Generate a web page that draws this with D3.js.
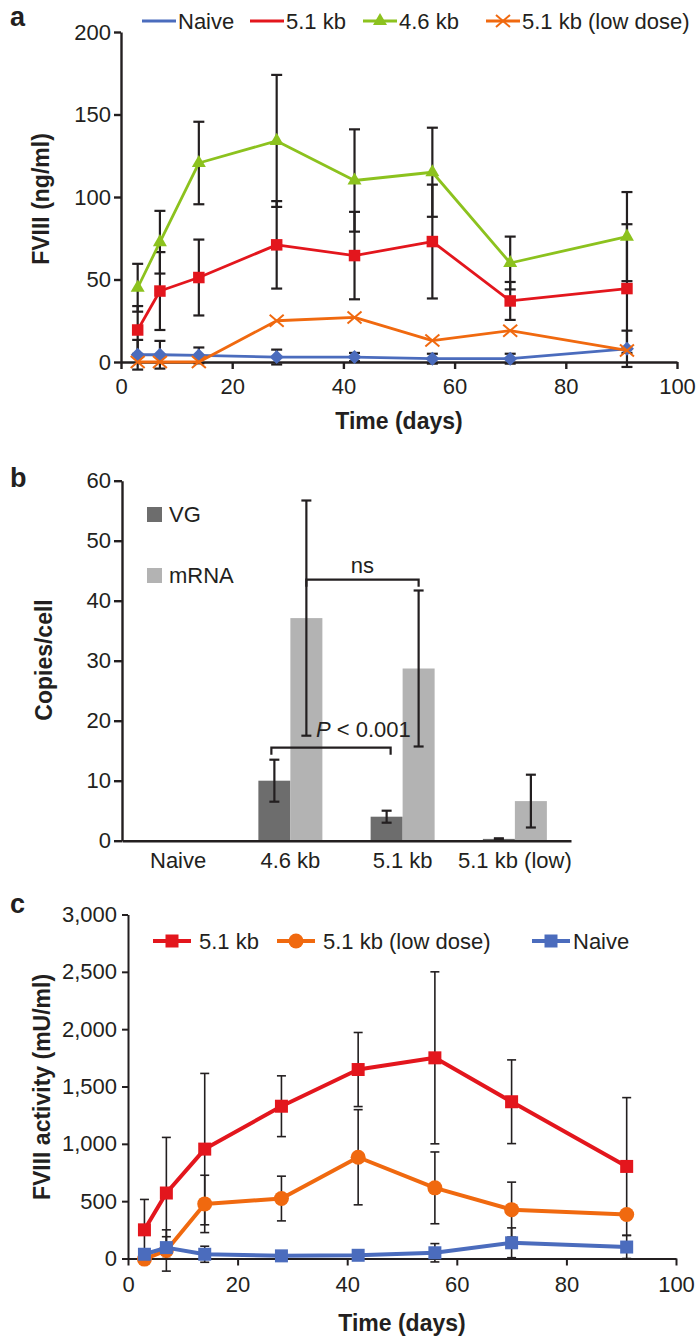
<!DOCTYPE html>
<html>
<head>
<meta charset="utf-8">
<script src="https://cdn.jsdelivr.net/npm/d3@7"></script>
<style>
  html, body { margin: 0; padding: 0; background: #fff; }
  svg { display: block; }
</style>
</head>
<body>
<div id="chart"></div>
<script>
// panel a: FVIII antigen (ng/ml)
const daysA = [3, 7, 14, 28, 42, 56, 70, 91];
const naiveA = [4.4, 4.4, 4, 3, 3, 2, 2, 8];
const naiveAErr = [9, 8.4, 4.8, 4.5, 2.5, 3, 3, 11];
const kb51A = [19.4, 43, 51.2, 71, 64.5, 73, 37, 44.5];
const kb51AErr = [14.5, 23.6, 23, 26.5, 26.5, 34.5, 11.5, 39];
const kb46A = [45, 72.6, 120.6, 134, 110, 115, 60, 76];
const kb46AErr = [14.5, 19, 25, 40, 31, 27, 16, 27];
const lowA = [0, 0, 0, 25, 27, 13, 19, 7];
const yTicksA = [0, 50, 100, 150, 200];
const xTicks = [0, 20, 40, 60, 80, 100];

// panel b: copies per cell
const groupsB = ["Naive", "4.6 kb", "5.1 kb", "5.1 kb (low)"];
const vgB = [0, 10, 4, 0.3];
const vgBErr = [0, 3.5, 1, 0.1];
const mrnaB = [0, 37.1, 28.7, 6.6];
const mrnaBErr = [0, 19.6, 13, 4.4];
const yTicksB = [0, 10, 20, 30, 40, 50, 60];

// panel c: FVIII activity (mU/ml)
const daysC = [3, 7, 14, 28, 42, 56, 70, 91];
const kb51C = [250, 571, 954, 1328, 1648, 1750, 1367, 803];
const kb51CErr = [265, 485, 660, 265, 323, 750, 365, 600];
const lowC = [-5, 70, 476, 523, 883, 616, 426, 384];
const lowCErr = [0, 180, 250, 195, 415, 313, 240, 0];
const naiveC = [37, 95, 37, 23, 28, 50, 137, 100];
const naiveCErr = [30, 95, 70, 0, 0, 80, 130, 100];
const yTicksC = [0, 500, 1000, 1500, 2000, 2500, 3000];

const FONT = "'Liberation Sans', Arial, Helvetica, sans-serif";
const INK = "#231f20";
const BLUE = "#4b6cbd", RED = "#e3161d", GREEN = "#8cc21e", ORANGE = "#f0690f";

const svg = d3.select("#chart").append("svg").attr("width", 700).attr("height", 1343);
svg.append("rect").attr("width", 700).attr("height", 1343).attr("fill", "#fff");

const styleAxis = (sel, sw, fs) => sel
  .call(a => a.select(".domain").attr("stroke", INK).attr("stroke-width", sw))
  .call(a => a.selectAll(".tick line").attr("stroke", INK).attr("stroke-width", sw))
  .call(a => a.selectAll("text").attr("fill", INK)
    .style("font-family", FONT).style("font-size", fs + "px"));

const label = (x, y, txt, opts = {}) => svg.append("text")
  .attr("x", x).attr("y", y).attr("fill", INK)
  .attr("text-anchor", opts.anchor || "start")
  .attr("transform", opts.rotate ? `rotate(-90,${x},${y})` : null)
  .style("font-family", FONT).style("font-size", (opts.size || 22) + "px")
  .style("font-weight", opts.bold ? "bold" : "normal")
  .text(txt);

function errorBars(g, xs, vals, errs, x, y, cap, sw) {
  xs.forEach((d, i) => {
    const e = errs[i];
    if (!e) return;
    const cx = x(d), y1 = y(vals[i] + e), y2 = y(vals[i] - e);
    g.append("line").attr("x1", cx).attr("x2", cx).attr("y1", y1).attr("y2", y2)
      .attr("stroke", INK).attr("stroke-width", sw);
    [y1, y2].forEach(yy => g.append("line")
      .attr("x1", cx - cap).attr("x2", cx + cap).attr("y1", yy).attr("y2", yy)
      .attr("stroke", INK).attr("stroke-width", sw));
  });
}

const diamond = "M0,-7L7,0L0,7L-7,0Z";
const cross = "M-7,-6L7,6M-7,6L7,-6";
const tri = d3.symbol().type(d3.symbolTriangle).size(85)();
const sq = s => `M${-s/2},${-s/2}h${s}v${s}h${-s}Z`;

function series(g, xs, vals, x, y, color, lw, marker) {
  g.append("path").datum(xs.map((d, i) => [d, vals[i]]))
    .attr("d", d3.line().x(d => x(d[0])).y(d => y(d[1])))
    .attr("fill", "none").attr("stroke", color).attr("stroke-width", lw)
    .attr("stroke-linejoin", "round");
  xs.forEach((d, i) => {
    const t = `translate(${x(d)},${y(vals[i])})`;
    if (marker === "circle") {
      g.append("circle").attr("transform", t).attr("r", 7.5).attr("fill", color);
    } else if (marker === "cross") {
      g.append("path").attr("transform", t).attr("d", cross)
        .attr("fill", "none").attr("stroke", color).attr("stroke-width", 2);
    } else {
      g.append("path").attr("transform", t).attr("d", marker).attr("fill", color);
    }
  });
}

// ---------- panel a ----------
{
  const x = d3.scaleLinear().domain([0, 100]).range([121, 677]);
  const y = d3.scaleLinear().domain([0, 200]).range([362, 32]);
  const g = svg.append("g");

  g.append("g").attr("transform", "translate(0,362)")
    .call(d3.axisBottom(x).tickValues(xTicks).tickSize(7).tickSizeOuter(0).tickPadding(9))
    .call(s => styleAxis(s, 2.4, 22));
  g.append("g").attr("transform", "translate(121,0)")
    .call(d3.axisLeft(y).tickValues(yTicksA).tickSize(7).tickSizeOuter(0).tickPadding(3))
    .call(s => styleAxis(s, 2.4, 22));

  errorBars(g, daysA, kb46A, kb46AErr, x, y, 5.5, 2.2);
  errorBars(g, daysA, kb51A, kb51AErr, x, y, 5.5, 2.2);
  errorBars(g, daysA, naiveA, naiveAErr, x, y, 5.5, 2.2);

  series(g, daysA, naiveA, x, y, BLUE, 2.8, diamond);
  series(g, daysA, kb51A, x, y, RED, 2.8, sq(11.5));
  series(g, daysA, kb46A, x, y, GREEN, 2.8, tri);
  series(g, daysA, lowA, x, y, ORANGE, 2.8, "cross");

  // legend
  const ly = 21;
  const items = [
    { name: "Naive", c: BLUE, x0: 142, m: null },
    { name: "5.1 kb", c: RED, x0: 250, m: null },
    { name: "4.6 kb", c: GREEN, x0: 363, m: tri },
    { name: "5.1 kb (low dose)", c: ORANGE, x0: 486, m: "cross" }
  ];
  items.forEach(it => {
    g.append("line").attr("x1", it.x0).attr("x2", it.x0 + 34).attr("y1", ly).attr("y2", ly)
      .attr("stroke", it.c).attr("stroke-width", 3);
    if (it.m === "cross") {
      g.append("path").attr("transform", `translate(${it.x0 + 17},${ly})`).attr("d", cross)
        .attr("fill", "none").attr("stroke", it.c).attr("stroke-width", 2);
    } else if (it.m) {
      g.append("path").attr("transform", `translate(${it.x0 + 17},${ly})`).attr("d", it.m).attr("fill", it.c);
    }
    label(it.x0 + 36, ly + 8, it.name);
  });

  label(49, 199, "FVIII (ng/ml)", { rotate: true, anchor: "middle", bold: true, size: 23 });
  label(399, 429, "Time (days)", { anchor: "middle", bold: true, size: 23 });
  label(10, 26, "a", { bold: true, size: 27 });
}

// ---------- panel b ----------
{
  const x = d3.scaleBand().domain(groupsB).range([122, 571]).padding(0);
  const sub = d3.scaleBand().domain(["VG", "mRNA"]).range([0, x.bandwidth()])
    .paddingInner(0).paddingOuter(0.754);
  const y = d3.scaleLinear().domain([0, 60]).range([840.7, 480.7]);
  const g = svg.append("g");
  const colors = { VG: "#6d6d6d", mRNA: "#b3b3b3" };
  const sets = { VG: [vgB, vgBErr], mRNA: [mrnaB, mrnaBErr] };

  ["VG", "mRNA"].forEach(k => {
    const [vals] = sets[k];
    g.selectAll(null).data(groupsB).join("rect")
      .attr("x", d => x(d) + sub(k))
      .attr("width", sub.bandwidth())
      .attr("y", (d, i) => y(vals[i]))
      .attr("height", (d, i) => y(0) - y(vals[i]))
      .attr("fill", colors[k]);
  });
  ["VG", "mRNA"].forEach(k => {
    const [vals, errs] = sets[k];
    errorBars(g, groupsB, vals, errs, d => x(d) + sub(k) + sub.bandwidth() / 2, y, 5, 2.2);
  });

  g.append("g").attr("transform", "translate(0,840.7)")
    .call(d3.axisBottom(x).tickSize(0).tickPadding(12))
    .call(s => styleAxis(s, 2.4, 22));
  g.append("g").attr("transform", "translate(122,0)")
    .call(d3.axisLeft(y).tickValues(yTicksB).tickSize(8).tickSizeOuter(0).tickPadding(3))
    .call(s => styleAxis(s, 2.4, 22));

  // significance brackets
  const bracket = (xa, xb, v, drop) => {
    const yy = y(v);
    g.append("path").attr("d", `M${xa},${yy + drop}V${yy}H${xb}V${yy + drop}`)
      .attr("fill", "none").attr("stroke", INK).attr("stroke-width", 2.2);
  };
  const mid = (grp, k) => x(grp) + sub(k) + sub.bandwidth() / 2;
  bracket(mid("4.6 kb", "mRNA"), mid("5.1 kb", "mRNA"), 43.5, 7);
  label((mid("4.6 kb", "mRNA") + mid("5.1 kb", "mRNA")) / 2, y(44.6), "ns", { anchor: "middle" });
  bracket(mid("4.6 kb", "VG") - 3, mid("5.1 kb", "VG") + 4, 15.5, 7);
  const p = label(316, y(17.3), "");
  p.append("tspan").style("font-style", "italic").text("P");
  p.append("tspan").text(" < 0.001");

  // legend
  [["VG", 507], ["mRNA", 568]].forEach(([k, ty]) => {
    g.append("rect").attr("x", 147).attr("y", ty).attr("width", 15).attr("height", 15).attr("fill", colors[k]);
    label(169, ty + 15, k);
  });

  label(52, 660, "Copies/cell", { rotate: true, anchor: "middle", bold: true, size: 23 });
  label(10, 487, "b", { bold: true, size: 27 });
}

// ---------- panel c ----------
{
  const x = d3.scaleLinear().domain([0, 100]).range([128, 676]);
  const y = d3.scaleLinear().domain([0, 3000]).range([1258.5, 914.5]);
  const g = svg.append("g");

  g.append("g").attr("transform", "translate(0,1258.5)")
    .call(d3.axisBottom(x).tickValues(xTicks).tickSize(7).tickSizeOuter(0).tickPadding(11))
    .call(s => styleAxis(s, 2, 22));
  g.append("g").attr("transform", "translate(128,0)")
    .call(d3.axisLeft(y).tickValues(yTicksC).tickFormat(d3.format(",")).tickSize(6).tickSizeOuter(0).tickPadding(5))
    .call(s => styleAxis(s, 2, 22));

  errorBars(g, daysC, kb51C, kb51CErr, x, y, 4.5, 1.6);
  errorBars(g, daysC, lowC, lowCErr, x, y, 4.5, 1.6);
  errorBars(g, daysC, naiveC, naiveCErr, x, y, 4.5, 1.6);

  series(g, daysC, kb51C, x, y, RED, 4, sq(13));
  series(g, daysC, lowC, x, y, ORANGE, 4, "circle");
  series(g, daysC, naiveC, x, y, BLUE, 4, sq(13));

  const ly = 941;
  [
    { name: "5.1 kb", c: RED, x0: 153, m: sq(13) },
    { name: "5.1 kb (low dose)", c: ORANGE, x0: 277, m: "circle" },
    { name: "Naive", c: BLUE, x0: 532, m: sq(13) }
  ].forEach(it => {
    g.append("line").attr("x1", it.x0).attr("x2", it.x0 + 38).attr("y1", ly).attr("y2", ly)
      .attr("stroke", it.c).attr("stroke-width", 4);
    if (it.m === "circle") {
      g.append("circle").attr("cx", it.x0 + 19).attr("cy", ly).attr("r", 7.5).attr("fill", it.c);
    } else {
      g.append("path").attr("transform", `translate(${it.x0 + 19},${ly})`).attr("d", it.m).attr("fill", it.c);
    }
    label(it.x0 + (it.name === "Naive" ? 41 : 46), ly + 8, it.name);
  });

  label(50, 1087, "FVIII activity (mU/ml)", { rotate: true, anchor: "middle", bold: true, size: 23 });
  label(402, 1331, "Time (days)", { anchor: "middle", bold: true, size: 23 });
  label(10, 913, "c", { bold: true, size: 27 });
}
</script>
</body>
</html>
